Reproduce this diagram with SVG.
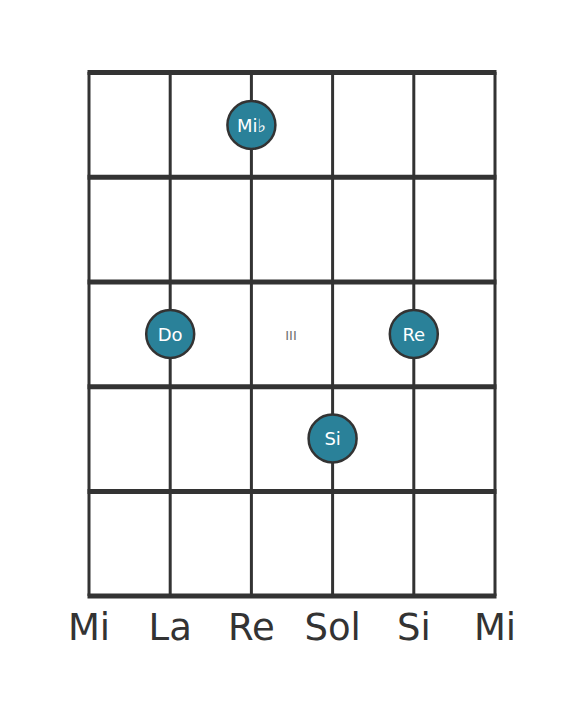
<svg xmlns="http://www.w3.org/2000/svg" width="584" height="711" viewBox="0 0 584 711">
<style>
.s{stroke:#333;stroke-width:3}
.f{stroke:#333;stroke-width:5}
.dot{fill:#2a8199;stroke:#333;stroke-width:2.5}
.dl{fill:#fff;font-family:"DejaVu Sans",sans-serif;font-size:18px;text-anchor:middle}
.sl{fill:#333;font-family:"DejaVu Sans",sans-serif;font-size:37px;text-anchor:middle}
</style>
<rect width="584" height="711" fill="#fff"/>
<g id="grid">
<line class="s" x1="89" y1="72" x2="89" y2="596"/>
<line class="s" x1="170.2" y1="72" x2="170.2" y2="596"/>
<line class="s" x1="251.4" y1="72" x2="251.4" y2="596"/>
<line class="s" x1="332.6" y1="72" x2="332.6" y2="596"/>
<line class="s" x1="413.8" y1="72" x2="413.8" y2="596"/>
<line class="s" x1="495" y1="72" x2="495" y2="596"/>
<line class="f" x1="87.5" y1="72.5" x2="496.5" y2="72.5"/>
<line class="f" x1="87.5" y1="177.3" x2="496.5" y2="177.3"/>
<line class="f" x1="87.5" y1="282" x2="496.5" y2="282"/>
<line class="f" x1="87.5" y1="386.7" x2="496.5" y2="386.7"/>
<line class="f" x1="87.5" y1="491.4" x2="496.5" y2="491.4"/>
<line class="f" x1="87.5" y1="596" x2="496.5" y2="596"/>
</g>
<text x="291" y="340" font-family="DejaVu Sans,sans-serif" font-size="13" fill="#707070" text-anchor="middle">III</text>
<g id="n1"><circle class="dot" cx="251.4" cy="125" r="24"/><text class="dl" x="251.4" y="131.5">Mi♭</text></g>
<g id="n2"><circle class="dot" cx="170.2" cy="334" r="24"/><text class="dl" x="170.2" y="340.5">Do</text></g>
<g id="n3"><circle class="dot" cx="413.8" cy="334" r="24"/><text class="dl" x="413.8" y="340.5">Re</text></g>
<g id="n4"><circle class="dot" cx="332.6" cy="438.5" r="24"/><text class="dl" x="332.6" y="445">Si</text></g>
<g id="labels">
<text class="sl" x="89" y="640">Mi</text>
<text class="sl" x="170.2" y="640">La</text>
<text class="sl" x="251.4" y="640">Re</text>
<text class="sl" x="332.6" y="640">Sol</text>
<text class="sl" x="413.8" y="640">Si</text>
<text class="sl" x="495" y="640">Mi</text>
</g>
</svg>
